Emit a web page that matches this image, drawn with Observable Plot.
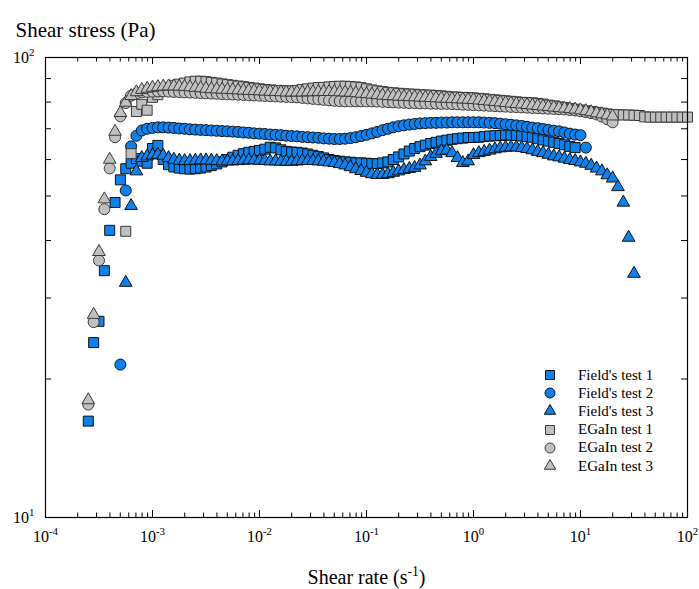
<!DOCTYPE html>
<html><head><meta charset="utf-8">
<script src="https://cdn.jsdelivr.net/npm/d3@7"></script>
<script src="https://cdn.jsdelivr.net/npm/@observablehq/plot@0.6"></script>
<style>
body{margin:0;background:#fff;}
#wrap{position:relative;width:699px;height:589px;font-family:"Liberation Serif","Times New Roman",serif;}
.lg{position:absolute;left:542px;height:18px;display:flex;align-items:center;font-size:15px;color:#000;white-space:nowrap;}
.lg svg{width:16px;height:16px;margin-right:20px;overflow:visible;}
</style></head><body><div id="wrap"></div>
<script>
// shear-rate grid (s^-1): mantissas within each decade
const mantissas = [1.000,1.122,1.259,1.413,1.585,1.778,1.995,2.239,2.512,2.818,3.162,3.548,3.981,4.467,5.012,5.623,6.310,7.079,7.943,8.913];
const decades = [1e-4,1e-3,1e-2,1e-1,1,10];
const rateGrid = decades.flatMap(d => mantissas.map(m => m*d)).concat([100]);

const majorRates = [1e-4,1e-3,1e-2,1e-1,1,10,100];
const majorRateLabels = ["10^{-4}","10^{-3}","10^{-2}","10^{-1}","10^{0}","10^{1}","10^{2}"];
const minorMultipliers = [2,3,4,5,6,7,8,9];
const stressTicks = [20,30,40,50,60,70,80,90];
const stressLabelTicks = [10,100];
const stressLabels = ["10^{1}","10^{2}"];

const seriesNames = ["Field's test 1","Field's test 2","Field's test 3","EGaIn test 1","EGaIn test 2","EGaIn test 3"];
const seriesStart = [8,14,15,15,8,8]; // index into rateGrid of first point

// Shear stress (Pa)
const fieldsTest1 = [16.2,24.0,26.7,34.4,42.1,48.4,54.2,57.3,58.9,60.3,59.5,58.9,63.4,64.4,60.0,58.5,57.8,57.5,57.3,57.2,
57.3,57.5,57.8,58.2,58.7,59.3,60.0,60.7,61.3,61.8,62.2,62.5,62.8,63.2,63.8,63.6,63.0,62.5,62.3,62.2,
62.0,61.7,61.3,60.9,60.5,60.0,59.7,59.5,59.3,59.2,59.0,59.0,58.9,58.8,58.8,59.0,59.3,60.0,60.8,61.7,
62.6,63.4,64.0,64.5,65.0,65.4,65.8,66.1,66.4,66.6,66.8,67.0,67.0,67.1,67.3,67.5,67.6,67.7,67.8,67.8,
67.7,67.5,67.3,67.1,66.6,66.2,65.8,65.4,65.0,64.6,64.1,63.7];
const fieldsTest2 = [21.5,51.4,64.1,67.6,69.4,70.0,70.3,70.5,70.5,70.4,70.3,70.1,70.0,69.8,69.7,69.6,69.5,69.4,69.3,69.2,
69.1,69.0,68.9,68.7,68.6,68.4,68.3,68.2,68.0,67.9,67.8,67.6,67.5,67.4,67.2,67.1,67.0,66.9,66.7,66.6,
66.5,66.5,66.6,66.8,67.1,67.5,67.9,68.4,68.9,69.5,70.0,70.5,70.9,71.2,71.5,71.7,71.9,72.0,72.1,72.1,
72.2,72.2,72.3,72.3,72.3,72.3,72.3,72.3,72.2,72.1,72.0,71.8,71.6,71.4,71.2,71.0,70.7,70.4,70.2,69.9,
69.6,69.3,69.1,68.7,68.3,68.0,67.8,63.7];
const fieldsTest3 = [32.4,47.6,56.6,60.5,61.0,61.3,61.5,61.2,60.5,60.0,59.7,59.6,59.6,59.7,59.8,59.8,59.7,59.6,59.5,59.5,
59.5,59.6,59.7,59.8,59.8,59.7,59.6,59.5,59.5,59.4,59.4,59.4,59.5,59.6,59.6,59.6,59.5,59.4,59.2,59.0,
58.7,58.3,57.8,57.2,56.7,56.2,55.8,55.6,55.6,55.8,56.2,56.6,57.0,57.3,57.6,58.3,59.5,60.8,61.8,62.6,
62.8,62.0,60.5,59.0,59.5,61.4,62.0,62.4,62.8,63.2,63.5,63.7,63.8,63.8,63.6,63.3,62.9,62.4,62.0,61.5,
61.0,60.7,60.3,59.9,59.6,59.2,58.8,58.2,57.4,56.6,55.5,54.6,52.3,48.4,40.6,33.9];
const egainTest1 = [41.9,61.8,76.3,79.1,76.8,81.9,83.0,84.5,86.0,87.0,87.5,88.0,88.5,88.8,88.8,88.6,88.3,88.0,87.6,87.3,
87.0,86.7,86.4,86.1,85.8,85.5,85.2,85.0,84.8,84.7,84.6,84.6,84.8,85.2,85.5,85.8,86.0,86.1,86.3,86.5,
86.6,86.6,86.5,86.3,86.0,85.5,85.0,84.6,84.3,84.0,83.8,83.6,83.4,83.3,83.2,83.0,82.9,82.8,82.7,82.5,
82.3,82.1,82.0,81.9,81.8,81.7,81.5,81.3,81.1,80.9,80.7,80.5,80.3,80.1,79.9,79.8,79.7,79.5,79.2,78.8,
78.5,78.1,77.8,77.5,77.2,76.9,76.6,76.3,76.0,75.7,75.4,75.2,75.1,75.0,75.0,74.9,74.8,74.3,74.2,74.2,
74.2,74.2,74.2,74.2,74.2,74.2];
const egainTest2 = [17.6,26.6,36.2,46.8,57.4,67.1,74.5,79.6,82.6,83.5,84.0,84.2,84.3,84.4,84.4,84.3,84.2,84.1,84.0,83.9,
83.8,83.7,83.6,83.5,83.4,83.3,83.2,83.1,83.0,82.9,82.8,82.7,82.6,82.5,82.4,82.3,82.2,82.1,82.0,81.9,
81.7,81.5,81.3,81.1,80.9,80.7,80.5,80.4,80.3,80.3,80.3,80.3,80.3,80.3,80.2,80.1,80.0,79.9,79.8,79.7,
79.6,79.6,79.5,79.5,79.4,79.4,79.3,79.3,79.2,79.1,79.0,78.9,78.8,78.7,78.6,78.5,78.4,78.3,78.2,78.1,
78.0,77.9,77.8,77.7,77.6,77.5,77.4,77.3,77.2,77.1,76.9,76.7,76.4,76.1,75.7,75.2,74.4,73.4,72.3];
const egainTest3 = [18.0,27.6,37.8,49.2,60.0,69.0,75.8,79.8,82.5,84.1,85.1,85.6,86.0,86.3,86.5,86.6,86.6,86.5,86.4,86.2,
86.0,85.8,85.6,85.4,85.3,85.2,85.1,85.0,84.9,84.8,84.7,84.6,84.5,84.4,84.3,84.2,84.1,84.0,84.0,84.0,
84.0,84.1,84.1,84.2,84.2,84.2,84.2,84.1,84.0,83.9,83.7,83.5,83.3,83.1,82.9,82.7,82.5,82.4,82.3,82.2,
82.1,82.0,81.9,81.8,81.7,81.6,81.5,81.4,81.3,81.2,81.1,81.0,80.9,80.7,80.5,80.3,80.1,79.9,79.7,79.5,
79.3,79.1,78.9,78.7,78.5,78.3,78.1,77.9,77.7,77.5,77.3,77.1,76.8,76.5,76.1,75.7,75.3,74.9,74.5];

const seriesStress = [fieldsTest1,fieldsTest2,fieldsTest3,egainTest1,egainTest2,egainTest3];
const seriesSymbol = ["square","circle","triangle","square","circle","triangle"];
const seriesFill = ["#0a82f0","#0a82f0","#0a82f0","#c0c0c0","#c0c0c0","#c0c0c0"];
const seriesStroke = ["#111","#111","#111","#3a3a3a","#3a3a3a","#3a3a3a"];
const symbolR = {square: 5.64, circle: 5.5, triangle: 4.7};

const seriesRows = seriesNames.map((name, s) =>
  seriesStress[s].map((v, i) => ({series: name, rate: rateGrid[seriesStart[s] + i], stress: v})));

const minorRates = decades.flatMap(d => minorMultipliers.map(m => m*d));
const W = 699, H = 589, mL = 45, mR = 12, mT = 57, mB = 72;
const frameH = H - mT - mB, frameW = W - mL - mR;

const svg = Plot.plot({
  width: W, height: H,
  marginLeft: mL, marginRight: mR, marginTop: mT, marginBottom: mB,
  style: {fontFamily: "'Liberation Serif','Times New Roman',serif", fontSize: "16px", background: "white", color: "black"},
  x: {type: "log", domain: [1e-4, 100]},
  y: {type: "log", domain: [10, 100]},
  marks: [
    // inward ticks, bottom and top
    Plot.tickX(majorRates, {x: d => d, insetTop: frameH - 7, strokeWidth: 1}),
    Plot.tickX(minorRates, {x: d => d, insetTop: frameH - 4.5, strokeWidth: 1}),
    Plot.tickX(majorRates, {x: d => d, insetBottom: frameH - 7, strokeWidth: 1}),
    Plot.tickX(minorRates, {x: d => d, insetBottom: frameH - 4.5, strokeWidth: 1}),
    // inward ticks, left and right
    Plot.tickY(stressTicks, {y: d => d, insetRight: frameW - 6, strokeWidth: 1}),
    Plot.tickY(stressTicks, {y: d => d, insetLeft: frameW - 6, strokeWidth: 1}),
    Plot.axisX({ticks: majorRates, tickSize: 0, tickPadding: 13, label: null, fontSize: 16,
      tickFormat: d => majorRateLabels[majorRates.indexOf(d)]}),
    Plot.axisY({ticks: stressLabelTicks, tickSize: 0, tickPadding: 11, label: null, fontSize: 16,
      tickFormat: d => stressLabels[stressLabelTicks.indexOf(d)]}),
    ...seriesRows.map((rows, s) => Plot.dot(rows, {
      x: "rate", y: "stress", symbol: seriesSymbol[s], r: symbolR[seriesSymbol[s]],
      fill: seriesFill[s], stroke: seriesStroke[s], strokeWidth: 1
    })),
    Plot.frame({stroke: "black", strokeWidth: 1.2}),
    Plot.text(["Shear stress (Pa)"], {text: d => d, frameAnchor: "top-left", textAnchor: "start",
      lineAnchor: "middle", dx: -30, dy: -27, fontSize: 21}),
    Plot.text(["Shear rate (s^{-1})"], {text: d => d, frameAnchor: "bottom",
      lineAnchor: "middle", dy: 60, fontSize: 20})
  ]
});

const wrap = document.getElementById("wrap");
wrap.appendChild(svg);

function superscriptify(el) {
  const t = el.textContent;
  const m = t.match(/^(.*?)\^\{(.*?)\}(.*)$/);
  if (!m) return;
  const fs = parseFloat(getComputedStyle(el).fontSize) || 16;
  el.textContent = "";
  const sel = d3.select(el);
  sel.append("tspan").text(m[1]);
  sel.append("tspan").attr("dy", -0.42 * fs).attr("font-size", 0.68 * fs).text(m[2]);
  if (m[3]) sel.append("tspan").attr("dy", 0.42 * fs).text(m[3]);
}
d3.select(svg).selectAll("text").each(function() { superscriptify(this); });

// legend
const legendTop = 366, legendStep = 18.2;
const swatchSize = {square: 81, circle: 78.5, triangle: 55};
const symbolMap = {square: d3.symbolSquare, circle: d3.symbolCircle, triangle: d3.symbolTriangle};
seriesNames.forEach((name, s) => {
  const row = document.createElement("div");
  row.className = "lg";
  row.style.top = (legendTop + s * legendStep) + "px";
  const sym = seriesSymbol[s];
  const path = d3.symbol(symbolMap[sym], swatchSize[sym])();
  row.innerHTML = `<svg viewBox="-8 -8 16 16"><path d="${path}" fill="${seriesFill[s]}" stroke="${seriesStroke[s]}" stroke-width="1"/></svg>`;
  const span = document.createElement("span");
  span.textContent = name;
  row.appendChild(span);
  wrap.appendChild(row);
});
</script>
</body></html>
